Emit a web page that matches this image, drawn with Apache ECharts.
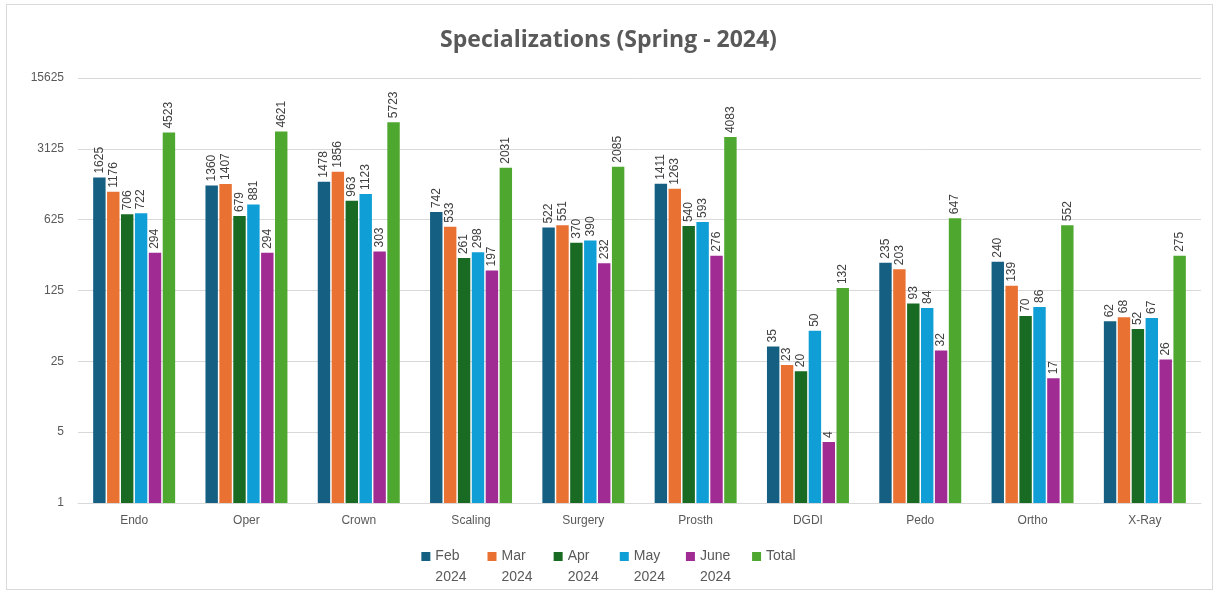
<!DOCTYPE html>
<html>
<head>
<meta charset="utf-8">
<script src="https://cdn.jsdelivr.net/npm/echarts@6/dist/echarts.min.js"></script>
<style>
  html, body { margin: 0; padding: 0; background: #fff; }
  #main { width: 1217px; height: 592px; }
  #frame { position: absolute; left: 6px; top: 4px; width: 1205px; height: 584px; border: 1px solid #d9d9d9; pointer-events: none; }
</style>
</head>
<body>
<div id="main"></div>
<div id="frame"></div>
<script>
const categories = ['Endo', 'Oper', 'Crown', 'Scaling', 'Surgery', 'Prosth', 'DGDI', 'Pedo', 'Ortho', 'X-Ray']
const seriesNames = ['Feb\n2024', 'Mar\n2024', 'Apr\n2024', 'May\n2024', 'June\n2024', 'Total']
const feb = [1625, 1360, 1478, 742, 522, 1411, 35, 235, 240, 62]
const mar = [1176, 1407, 1856, 533, 551, 1263, 23, 203, 139, 68]
const apr = [706, 679, 963, 261, 370, 540, 20, 93, 70, 52]
const may = [722, 881, 1123, 298, 390, 593, 50, 84, 86, 67]
const june = [294, 294, 303, 197, 232, 276, 4, 32, 17, 26]
const total = [4523, 4621, 5723, 2031, 2085, 4083, 132, 647, 552, 275]
const colors = ['#156082', '#e97132', '#196b24', '#0f9ed5', '#a02b93', '#4ea72e']

const chart = echarts.init(document.getElementById('main'))

// one bar series per month, labels rotated above the bars
const makeSeries = (name, data, i) => ({
  name,
  type: 'bar',
  data,
  barGap: '12%',
  barCategoryGap: '27%',
  itemStyle: { color: colors[i] },
  label: {
    show: true,
    position: 'top',
    rotate: 90,
    align: 'left',
    verticalAlign: 'middle',
    distance: 4,
    color: '#404040',
    fontSize: 12,
    fontFamily: 'Liberation Sans'
  }
})

const series = [feb, mar, apr, may, june, total].map((d, i) => makeSeries(seriesNames[i], d, i))

chart.setOption({
  animation: false,
  title: {
    text: 'Specializations (Spring - 2024)',
    left: 'center',
    top: 24,
    textStyle: { fontSize: 23, fontWeight: 'bold', color: '#595959', fontFamily: 'Open Sans' }
  },
  legend: {
    top: 520,
    left: 'center',
    itemWidth: 9,
    itemHeight: 9,
    itemGap: 21,
    icon: 'rect',
    textStyle: { fontSize: 14, color: '#595959', fontFamily: 'Liberation Sans', lineHeight: 21 },
    // an empty first line keeps the square beside the month, not between the two lines
    formatter: (name) => (name.includes('\n') ? '\n' + name : name)
  },
  grid: { left: 78, right: 16, top: 78, bottom: 89 },
  xAxis: {
    type: 'category',
    data: categories,
    axisTick: { show: false },
    axisLine: { lineStyle: { color: '#d9d9d9' } },
    axisLabel: { color: '#595959', fontSize: 12, margin: 12, fontFamily: 'Liberation Sans' }
  },
  yAxis: {
    type: 'log',
    logBase: 5,
    min: 1,
    max: 15625,
    splitLine: { lineStyle: { color: '#d9d9d9' } },
    axisLine: { show: false },
    axisTick: { show: false },
    axisLabel: {
      color: '#595959',
      fontSize: 12,
      margin: 14,
      fontFamily: 'Liberation Sans',
      formatter: (v) => String(Math.round(v))
    }
  },
  series
})
</script>
</body>
</html>
